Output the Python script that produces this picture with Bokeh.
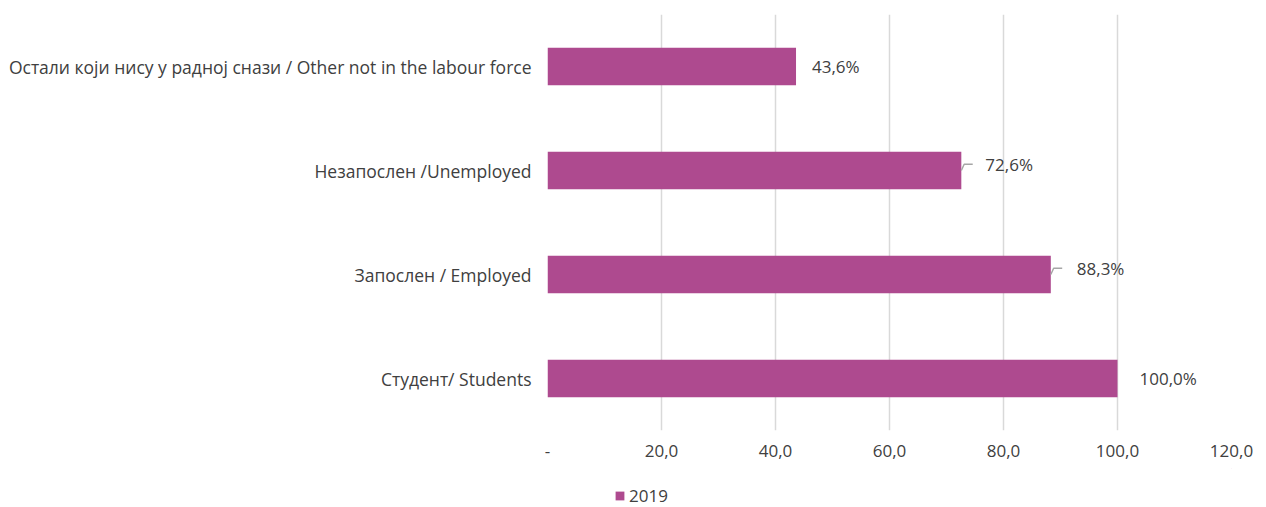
from bokeh.plotting import figure
from bokeh.layouts import column
from bokeh.models import FactorRange, Range1d, FixedTicker, ColumnDataSource, Legend, LegendItem
from bokeh.core.properties import value
from bokeh.embed import file_html
from bokeh.resources import INLINE

# data
categories = ["Студент/ Students", "Запослен / Employed", "Незапослен /Unemployed",
              "Остали који нису у радној снази / Other not in the labour force"]
values = [100.0, 88.3, 72.6, 43.6]
labels = ["100,0%", "88,3%", "72,6%", "43,6%"]
series_name = "2019"
ticks = [0, 20, 40, 60, 80, 100, 120]
tick_labels = ["-", "20,0", "40,0", "60,0", "80,0", "100,0", "120,0"]

# layout / style
BAR = "#AE4A8F"
TXT = "#404040"
GRID = "#D9D9D9"
FONT = "Open Sans"
label_dx = [22, 26, 24, 16]       # px from bar end
label_dy = [0, -6, -6, 0]         # px (negative = up)
leader = [False, True, True, False]

p = figure(width=1258, height=468, y_range=FactorRange(factors=categories),
           x_range=Range1d(0, 120), output_backend="svg", toolbar_location=None,
           min_border_left=547, min_border_right=27, min_border_top=14, min_border_bottom=38)
p.outline_line_color = None
p.background_fill_color = "white"
p.border_fill_color = "white"

src = ColumnDataSource(dict(cat=categories, val=values, lab=labels, dx=label_dx, dy=label_dy))
r = p.hbar(y="cat", right="val", left=0, height=0.36, source=src, color=BAR, line_color=None)

p.text(x="val", y="cat", text="lab", x_offset="dx", y_offset="dy", source=src,
       text_font=value(FONT), text_font_size="17px", text_color=TXT,
       text_baseline="middle", text_align="left")

# leader lines for labels that have them
lx, ly = [], []
for c, v, has in zip(categories, values, leader):
    if has:
        lx.append([v, v + 0.5, v + 2.0])
        ly.append([(c, 0.0), (c, 0.06), (c, 0.06)])
if lx:
    p.multi_line(xs=lx, ys=ly, line_color="#A6A6A6", line_width=1.5)

p.xaxis.ticker = FixedTicker(ticks=ticks)
p.xaxis.major_label_overrides = {t: l for t, l in zip(ticks, tick_labels)}
p.xaxis.axis_line_color = None
p.xaxis.major_tick_line_color = None
p.xaxis.minor_tick_line_color = None
p.xaxis.major_label_text_font = FONT
p.xaxis.major_label_text_font_size = "17px"
p.xaxis.major_label_text_color = TXT
p.xaxis.major_label_standoff = 8

p.yaxis.axis_line_color = None
p.yaxis.major_tick_line_color = None
p.yaxis.minor_tick_line_color = None
p.yaxis.major_label_text_font = FONT
p.yaxis.major_label_text_font_size = "17.5px"
p.yaxis.major_label_text_color = TXT
p.yaxis.major_label_standoff = 10

p.xgrid.grid_line_color = GRID
p.xgrid.grid_line_width = 1.5
p.ygrid.grid_line_color = None

# legend strip below the chart (its frame lines up with the chart frame)
lg = figure(width=1258, height=39, x_range=Range1d(0, 1), y_range=Range1d(0, 1),
            output_backend="svg", toolbar_location=None,
            min_border_left=0, min_border_right=0, min_border_top=0, min_border_bottom=0)
lg.axis.visible = False
lg.grid.grid_line_color = None
lg.outline_line_color = None
lr = lg.hbar(y=[5], right=[5], left=[4], height=0.5, color=BAR, line_color=None)
legend = Legend(items=[LegendItem(label=series_name, renderers=[lr])], location=(67, 0),
                orientation="horizontal", border_line_color=None, background_fill_alpha=0,
                label_text_font=FONT, label_text_font_size="17px", label_text_color=TXT,
                glyph_width=11, glyph_height=11, label_standoff=4, padding=0, margin=0)
lg.add_layout(legend, "center")

open("out.html", "w").write(file_html(column(p, lg, spacing=0), INLINE))
